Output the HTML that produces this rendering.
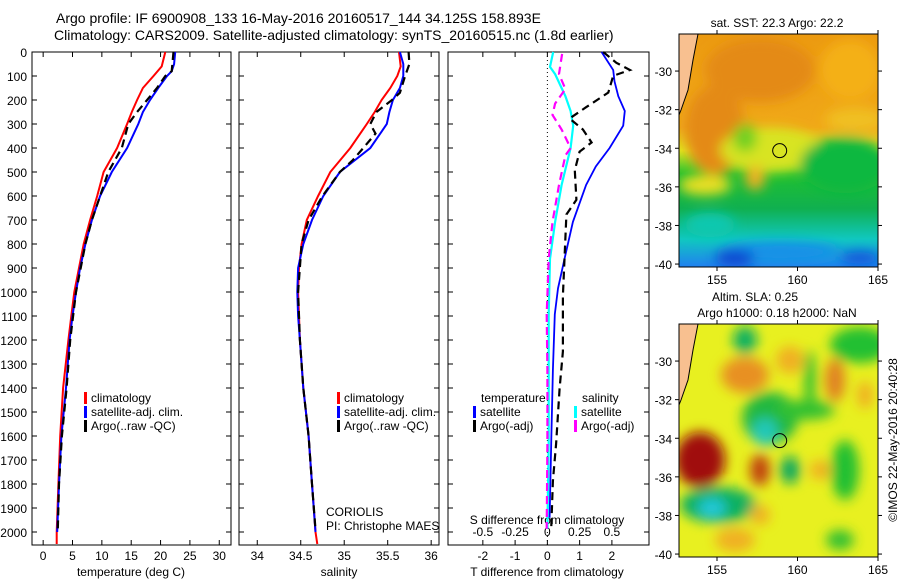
<!DOCTYPE html>
<html><head><meta charset="utf-8"><style>
html,body{margin:0;padding:0;background:#fff;}
svg{display:block;font-family:"Liberation Sans",sans-serif;}
</style></head><body>
<svg id="fig" width="900" height="580" viewBox="0 0 900 580">
<defs>
<filter id="blur6" x="-20%" y="-20%" width="140%" height="140%"><feGaussianBlur stdDeviation="6"/></filter>
<clipPath id="clipTop"><rect x="679" y="34" width="199" height="233"/></clipPath>
<clipPath id="clipBot"><rect x="679" y="324" width="199" height="233"/></clipPath>
<linearGradient id="sstGrad" x1="0" y1="0" x2="0" y2="1">
<stop offset="0" stop-color="#ec9a10"/><stop offset="0.4" stop-color="#f0a818"/><stop offset="0.5" stop-color="#e0e820"/>
<stop offset="0.6" stop-color="#20c030"/><stop offset="0.75" stop-color="#10b050"/><stop offset="0.88" stop-color="#10c8c0"/><stop offset="1" stop-color="#2080f0"/></linearGradient>
</defs>
<g font-size="14" fill="#000">
<text x="56" y="23">Argo profile: IF 6900908_133 16-May-2016 20160517_144 34.125S 158.893E</text>
<text x="54" y="40">Climatology: CARS2009. Satellite-adjusted climatology: synTS_20160515.nc (1.8d earlier)</text>
</g>
<g id="panels"></g>
<g>
<g clip-path="url(#clipTop)">
<rect x="679" y="34" width="199" height="233" fill="url(#sstGrad)"/>
<g filter="url(#blur6)">
<ellipse cx="760" cy="70" rx="55" ry="32" fill="#e48a14"/>
<ellipse cx="715" cy="130" rx="30" ry="45" fill="#e48a14"/>
<ellipse cx="850" cy="70" rx="30" ry="30" fill="#f4b018"/>
<ellipse cx="770" cy="150" rx="50" ry="22" fill="#d8e420"/>
<ellipse cx="745" cy="138" rx="12" ry="14" fill="#70d020"/>
<ellipse cx="755" cy="178" rx="10" ry="12" fill="#f0b020"/>
<ellipse cx="845" cy="165" rx="45" ry="28" fill="#10b840"/>
<ellipse cx="855" cy="120" rx="30" ry="12" fill="#f0c020"/>
<ellipse cx="705" cy="185" rx="26" ry="10" fill="#eee020"/>
<ellipse cx="710" cy="225" rx="25" ry="12" fill="#10c8b0"/>
<ellipse cx="780" cy="252" rx="60" ry="10" fill="#1890e8"/>
<ellipse cx="735" cy="258" rx="20" ry="8" fill="#1040d0"/>
<ellipse cx="860" cy="258" rx="20" ry="6" fill="#1050d8"/>
</g>
<path d="M679,34 L698,34 L693,60 L688,90 L681,110 L679,115 Z" fill="#f8c090" stroke="#000" stroke-width="1"/>
</g>
<rect x="679" y="34" width="199" height="233" fill="none" stroke="#000"/>
<circle id="sstCircle" r="7" fill="none" stroke="#000"/>
<text x="777" y="27" font-size="12" text-anchor="middle">sat. SST: 22.3 Argo: 22.2</text>
</g>
<g>
<g clip-path="url(#clipBot)">
<rect x="679" y="324" width="199" height="233" fill="#e8f020"/>
<g filter="url(#blur6)">
<ellipse cx="745" cy="340" rx="12" ry="14" fill="#10b060"/>
<ellipse cx="860" cy="345" rx="30" ry="18" fill="#20c030"/>
<ellipse cx="745" cy="375" rx="24" ry="18" fill="#e89020"/>
<ellipse cx="790" cy="360" rx="14" ry="14" fill="#f0b020"/>
<ellipse cx="810" cy="380" rx="6" ry="30" fill="#30c030"/>
<ellipse cx="835" cy="380" rx="10" ry="22" fill="#e08020"/>
<ellipse cx="865" cy="395" rx="8" ry="14" fill="#f0b020"/>
<ellipse cx="770" cy="418" rx="28" ry="26" fill="#20b840"/>
<ellipse cx="805" cy="410" rx="30" ry="10" fill="#30c030"/>
<ellipse cx="765" cy="432" rx="13" ry="14" fill="#20c8b8"/>
<ellipse cx="700" cy="460" rx="25" ry="28" fill="#a00808"/>
<ellipse cx="760" cy="470" rx="10" ry="16" fill="#c04010"/>
<ellipse cx="790" cy="470" rx="10" ry="14" fill="#10a860"/>
<ellipse cx="820" cy="470" rx="10" ry="10" fill="#f0b020"/>
<ellipse cx="845" cy="470" rx="14" ry="30" fill="#20c030"/>
<ellipse cx="718" cy="505" rx="38" ry="18" fill="#10b060"/>
<ellipse cx="712" cy="508" rx="14" ry="10" fill="#20c8d8"/>
<ellipse cx="735" cy="540" rx="20" ry="12" fill="#f0b020"/>
<ellipse cx="760" cy="515" rx="10" ry="10" fill="#f0b020"/>
<ellipse cx="840" cy="540" rx="14" ry="10" fill="#30c030"/>
</g>
<path d="M679,324 L698,324 L693,350 L688,380 L681,400 L679,405 Z" fill="#f8c090" stroke="#000" stroke-width="1"/>
</g>
<rect x="679" y="324" width="199" height="233" fill="none" stroke="#000"/>
<circle id="slaCircle" r="7" fill="none" stroke="#000"/>
<text x="755" y="301" font-size="12" text-anchor="middle">Altim. SLA: 0.25</text>
<text x="777" y="317" font-size="12" text-anchor="middle">Argo h1000: 0.18 h2000: NaN</text>
</g>
<g id="mapaxes"></g>
<text transform="translate(897,440) rotate(-90)" font-size="12" text-anchor="middle">©IMOS 22-May-2016 20:40:28</text>
</svg>
<script>
// ---- data ----
const depthTicks = [0,100,200,300,400,500,600,700,800,900,1000,1100,1200,1300,1400,1500,1600,1700,1800,1900,2000];
const tempTicks = [0,5,10,15,20,25,30];
const salTicks = [34,34.5,35,35.5,36];
const tdiffTicks = [-2,-1,0,1,2];
const sdiffTicks = [-0.5,-0.25,0,0.25,0.5];
const sdiffTickLabels = ["-0.5","-0.25","0","0.25","0.5"];
const climDepth = [0,60,100,150,200,250,300,400,500,600,700,800,900,1000,1100,1200,1400,1600,1800,2000,2050];
const climTemp = [20.8,20.2,18.8,17,16,15.1,14.3,12.6,10.3,9.2,8.0,6.9,6.1,5.3,4.8,4.3,3.4,2.9,2.6,2.3,2.3];
const satDepth = [0,50,80,100,150,200,250,300,400,500,600,700,800,900,1000,1100,1200,1400,1600,1800,2000];
const satTemp = [22.5,22.3,21.9,21.1,19.6,18.2,17,16.2,14.3,11.7,9.7,8.3,7.2,6.3,5.6,5.0,4.5,3.9,3.1,2.7,2.4];
const argoDepth = [0,80,100,150,200,250,300,400,500,600,700,800,1000,1200,1400,1600,1800,1990];
const argoTemp = [22.2,21.9,20.8,19.4,17.7,16,14.5,13.4,11.1,9.7,8.3,7.2,5.6,4.6,4.0,3.2,2.7,2.5];
const climSal = [35.63,35.65,35.61,35.53,35.43,35.35,35.26,35.07,34.84,34.70,34.57,34.51,34.48,34.47,34.48,34.49,34.53,34.59,34.63,34.67,34.69];
const satSal = [35.64,35.68,35.68,35.68,35.64,35.56,35.52,35.49,35.30,34.95,34.76,34.63,34.53,34.47,34.46,34.47,34.49,34.53,34.59,34.63,34.67];
const argoSalDepth = [0,50,100,170,200,250,300,340,400,450,500,600,700,800,1000,1200,1400,1600,1800,1990];
const argoSal = [35.74,35.75,35.7,35.64,35.55,35.37,35.30,35.36,35.22,35.1,34.95,34.75,34.59,34.51,34.47,34.49,34.53,34.59,34.63,34.67];
const dSatDepth = [0,75,122,184,246,307,400,477,554,708,862,985,1093,1325,1633,1941];
const dSatT = [1.68,2.04,2.08,2.2,2.4,2.35,1.93,1.5,1.2,0.79,0.53,0.33,0.23,0.17,0.12,0.07];
const dArgoDepth = [0,45,75,99,169,230,277,323,377,415,493,616,677,862,1016,1248,1402,1633,1787,1987];
const dArgoT = [1.73,2.14,2.56,2.04,1.89,1.2,0.69,1.1,1.37,1.0,0.85,0.9,0.59,0.53,0.48,0.48,0.38,0.27,0.17,0.12];
const dSatSDepth = [0,62,92,184,246,307,400,554,708,862,1093,1633,1987];
const dSatS = [0.045,0.02,0.06,0.14,0.18,0.2,0.18,0.11,0.06,0.02,0.01,0.01,0.0];
const dArgoSDepth = [8,92,154,215,262,323,400,431,554,708,862,1093,1325,1633,1987];
const dArgoS = [0.114,0.09,0.14,0.06,0.04,0.11,0.18,0.14,0.09,0.04,0.01,-0.005,0,0,-0.005];
const mapLatTicks = [-30,-32,-34,-36,-38,-40];
const mapLonTicks = [155,160,165];
const argoLon = 158.893, argoLat = -34.125;

// ---- helpers ----
const NS = "http://www.w3.org/2000/svg";
const root = document.getElementById('panels');
function mk(tag, attrs, parent){const e=document.createElementNS(NS,tag);for(const k in attrs)e.setAttribute(k,attrs[k]);(parent||root).appendChild(e);return e;}
const yTop=52, yBot=545;
function yD(d){return yTop + d*0.24;}
const panels = [
 {x0:32,x1:231,min:-1.9,max:32},
 {x0:239,x1:439,min:33.79,max:36.09},
 {x0:448,x1:649,min:-3.08,max:3.15}
];
function xS(p,v){return p.x0+(v-p.min)/(p.max-p.min)*(p.x1-p.x0);}
function line(p,vals,depths,color,w,dash,name,scale){
  let d='';
  for(let i=0;i<vals.length;i++){d+=(i?'L':'M')+xS(p,vals[i]*(scale||1)).toFixed(1)+','+yD(depths[i]).toFixed(1);}
  const el=mk('path',{d:d,fill:'none',stroke:color,'stroke-width':w});
  if(dash)el.setAttribute('stroke-dasharray',dash);
  
  
}
function txt(x,y,s,size,anchor,name){const t=mk('text',{x:x,y:y,'font-size':size,'text-anchor':anchor||'start'});t.textContent=s;
  
  
  return t;}

panels.forEach((p,i)=>{
  const f=mk('rect',{x:p.x0,y:yTop,width:p.x1-p.x0,height:yBot-yTop,fill:'none',stroke:'#000'});
  
  
  depthTicks.forEach(d=>{
    mk('line',{x1:p.x0,x2:p.x0+5,y1:yD(d),y2:yD(d),stroke:'#000'});
    mk('line',{x1:p.x1-5,x2:p.x1,y1:yD(d),y2:yD(d),stroke:'#000'});
  });
});
depthTicks.forEach(d=>{txt(27,yD(d)+5,String(d),12,'end','depth-tick-label');});
function xticks(p,ticks,labels,name){
  ticks.forEach((t,i)=>{
    const x=xS(p,t);
    mk('line',{x1:x,x2:x,y1:yBot-5,y2:yBot,stroke:'#000'});
    mk('line',{x1:x,x2:x,y1:yTop,y2:yTop+5,stroke:'#000'});
    txt(x,yBot+15,labels?labels[i]:String(t),12,'middle',name);
  });
}
xticks(panels[0],tempTicks,null,'temperature-tick-label');
xticks(panels[1],salTicks,null,'salinity-tick-label');
xticks(panels[2],tdiffTicks,null,'tdiff-tick-label');
sdiffTicks.forEach((s,i)=>{txt(xS(panels[2],s*4),536,sdiffTickLabels[i],12,'middle','sdiff-tick-label');});
txt(131,576,'temperature (deg C)',12,'middle','x-axis-title-temperature');
txt(339,576,'salinity',12,'middle','x-axis-title-salinity');
txt(547,576,'T difference from climatology',12,'middle','x-axis-title-tdiff');
txt(547,524,'S difference from climatology',12,'middle','x-axis-title-sdiff');
const z=mk('line',{x1:xS(panels[2],0),x2:xS(panels[2],0),y1:yTop,y2:yBot,stroke:'#000','stroke-dasharray':'1,3'});



line(panels[0],climTemp,climDepth,'#f00',2,null,'temp-climatology-line');
line(panels[0],satTemp,satDepth,'#00f',2,null,'temp-satellite-line');
line(panels[0],argoTemp,argoDepth,'#000',2.2,'8,5','temp-argo-line');
line(panels[1],climSal,climDepth,'#f00',2,null,'sal-climatology-line');
line(panels[1],satSal,satDepth,'#00f',2,null,'sal-satellite-line');
line(panels[1],argoSal,argoSalDepth,'#000',2.2,'8,5','sal-argo-line');
line(panels[2],dSatS,dSatSDepth,'#0ff',2.2,null,'sdiff-satellite-line',4);
line(panels[2],dArgoS,dArgoSDepth,'#f0f',2.2,'8,5','sdiff-argo-line',4);
line(panels[2],dSatT,dSatDepth,'#00f',1.8,null,'tdiff-satellite-line');
line(panels[2],dArgoT,dArgoDepth,'#000',2.2,'8,5','tdiff-argo-line');

function legend(x,y,color,label,name){
  const b=mk('rect',{x:x,y:y-10,width:3,height:12,fill:color});
  
  
  txt(x+7,y,label,12,'start',name);
}
legend(84,402,'#f00','climatology','legend-climatology');
legend(84,416,'#00f','satellite-adj. clim.','legend-satellite-adj');
legend(84,430,'#000','Argo(..raw -QC)','legend-argo');
legend(337,402,'#f00','climatology','legend-sal-climatology');
legend(337,416,'#00f','satellite-adj. clim.','legend-sal-satellite-adj');
legend(337,430,'#000','Argo(..raw -QC)','legend-sal-argo');
txt(481,402,'temperature',12,'start','legend-temperature-heading');
legend(473,416,'#00f','satellite','legend-tdiff-satellite');
legend(473,430,'#000','Argo(-adj)','legend-tdiff-argo');
txt(582,402,'salinity',12,'start','legend-salinity-heading');
legend(574,416,'#0ff','satellite','legend-sdiff-satellite');
legend(574,430,'#f0f','Argo(-adj)','legend-sdiff-argo');
txt(326,516,'CORIOLIS',12,'start','data-centre-label');
txt(326,530,'PI: Christophe MAES',12,'start','pi-label');

const mapAxes=document.getElementById('mapaxes');
function lonX(l){return 679+(l-152.64)*16.1;}
function latY(l,top){return top+( -28.08 - l)*19.3;}
[34,324].forEach((top,mi)=>{
  mapLatTicks.forEach(l=>{
    const y=latY(l,top);
    mk('line',{x1:675,x2:679,y1:y,y2:y,stroke:'#000'},mapAxes);
    mk('line',{x1:878,x2:882,y1:y,y2:y,stroke:'#000'},mapAxes);
    const t=mk('text',{x:672,y:y+5,'font-size':12,'text-anchor':'end'},mapAxes);t.textContent=String(l);
    
    
  });
  mapLonTicks.forEach(l=>{
    const x=lonX(l);
    mk('line',{x1:x,x2:x,y1:top-4,y2:top,stroke:'#000'},mapAxes);
    mk('line',{x1:x,x2:x,y1:top+233,y2:top+237,stroke:'#000'},mapAxes);
    const t=mk('text',{x:x,y:top+250,'font-size':12,'text-anchor':'middle'},mapAxes);t.textContent=String(l);
    
    
  });
});
const c1=document.getElementById('sstCircle');c1.setAttribute('cx',lonX(argoLon));c1.setAttribute('cy',latY(argoLat,34));
const c2=document.getElementById('slaCircle');c2.setAttribute('cx',lonX(argoLon));c2.setAttribute('cy',latY(argoLat,324));
</script>
</body></html>
